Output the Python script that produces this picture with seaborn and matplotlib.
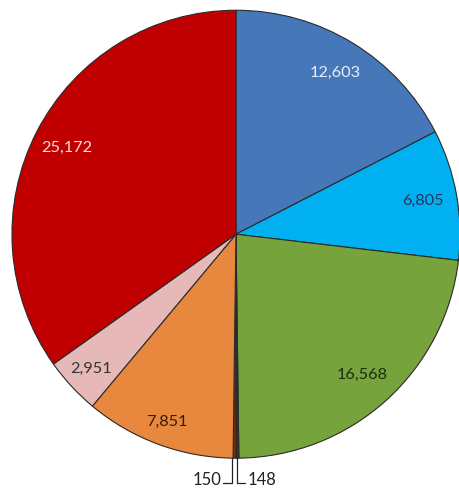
import numpy as np
import matplotlib
matplotlib.use("Agg")
import matplotlib.pyplot as plt
import seaborn as sns

# Data (clockwise from 12 o'clock)
categories = ["A", "B", "C", "D", "E", "F", "G", "H"]
values = [12603, 6805, 16568, 148, 150, 7851, 2951, 25172]
labels = ["12,603", "6,805", "16,568", "148", "150", "7,851", "2,951", "25,172"]
colors = ["#4677b8", "#00b0f0", "#77a33c", "#2b3a1a", "#7a2a10", "#e8873e", "#e6b9b8", "#c00000"]
text_colors = ["#e8eef8", "#1f3864", "#1e2d10", "#222222", "#222222", "#3a1c05", "#333333", "#f4dede"]

sns.set_style("white")
plt.rcParams['font.family'] = ['Lato', 'DejaVu Sans']

fig = plt.figure(figsize=(4.6, 4.89), dpi=100)
ax = fig.add_axes([0.026, 0.061, 0.974, 0.916])
palette = sns.color_palette(colors)

wedges, _ = ax.pie(values, colors=palette, startangle=90, counterclock=False,
                   wedgeprops=dict(edgecolor="#2a2a2a", linewidth=0.8))

dist = [0.85, 0.85, 0.84, None, None, 0.89, 0.88, 0.85]
for w, lab, tc, d in zip(wedges, labels, text_colors, dist):
    mid = np.deg2rad((w.theta1 + w.theta2) / 2)
    if d is not None:
        ax.text(d * np.cos(mid), d * np.sin(mid), lab, ha="center", va="center",
                fontsize=11.8, color=tc)

# leader labels for tiny slices
for w, lab, side in [(wedges[3], labels[3], 1), (wedges[4], labels[4], -1)]:
    mid = np.deg2rad((w.theta1 + w.theta2) / 2)
    x0 = np.cos(mid) * 1.0 + side * 0.004 - 0.008
    y0 = np.sin(mid) * 1.0
    ybot = -1.11
    x1 = x0 + side * 0.04
    ax.plot([x0, x0, x1], [y0, ybot, ybot], color="#222222", lw=0.9, clip_on=False)
    ax.text(x1 + side * 0.008, ybot + 0.015, lab, ha="left" if side > 0 else "right",
            va="center", fontsize=12, color="#222222")

ax.set_xlim(-1, 1)
ax.set_ylim(-1, 1)
ax.set_aspect("auto")
ax.axis("off")
fig.savefig("out.png", dpi=100)
